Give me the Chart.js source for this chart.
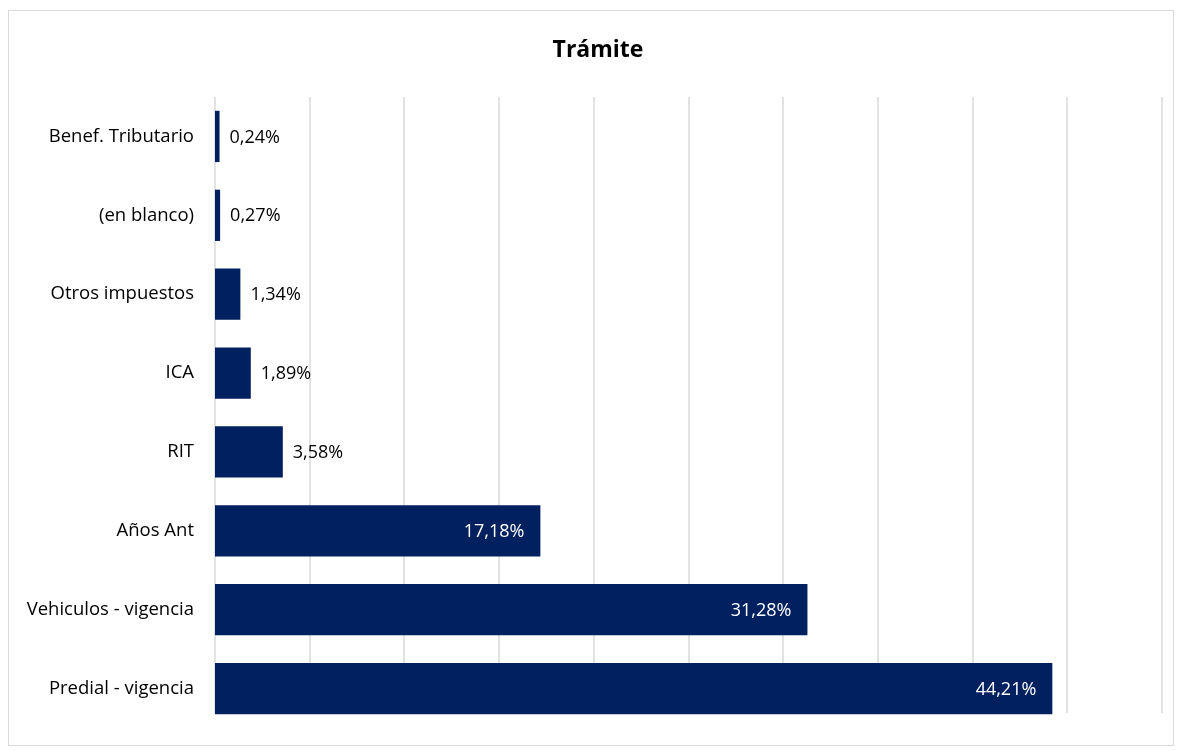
<!DOCTYPE html>
<html lang="es">
<head>
  <meta charset="UTF-8">
  <title>Trámite</title>
  <script src="https://cdn.jsdelivr.net/npm/chart.js"></script>
  <style>
    html, body { margin: 0; padding: 0; background: #fff; }
    #wrap { position: relative; width: 1182px; height: 751px; }
  </style>
</head>
<body>
<div id="wrap"><canvas id="tramite"></canvas></div>
<script>
const categories = [
  'Benef. Tributario', '(en blanco)', 'Otros impuestos', 'ICA',
  'RIT', 'Años Ant', 'Vehiculos - vigencia', 'Predial - vigencia'
];
const values = [0.24, 0.27, 1.34, 1.89, 3.58, 17.18, 31.28, 44.21];
const title = 'Trámite';

const fontFamily = '"Open Sans", sans-serif';
const barColor = '#002060';

function pct(v) {
  return v.toFixed(2).replace('.', ',') + '%';
}

// frame, gridlines, title and value labels
const decor = {
  id: 'decor',
  beforeDraw(chart) {
    const c = chart.ctx;
    c.save();
    c.fillStyle = '#fff';
    c.fillRect(0, 0, chart.width, chart.height);
    c.strokeStyle = '#d9d9d9';
    c.lineWidth = 1;
    c.strokeRect(8.5, 10.5, 1165, 735);
    c.restore();
  },
  beforeDatasetsDraw(chart) {
    const c = chart.ctx;
    const xs = chart.scales.x;
    const area = chart.chartArea;
    c.save();
    c.strokeStyle = '#d9d9d9';
    c.lineWidth = 1.5;
    xs.ticks.forEach(t => {
      const x = Math.round(xs.getPixelForValue(t.value));
      c.beginPath();
      c.moveTo(x, area.top);
      c.lineTo(x, area.bottom - 15);
      c.stroke();
    });
    c.restore();
  },
  afterDatasetsDraw(chart) {
    const c = chart.ctx;
    c.save();
    c.font = 'bold 23px ' + fontFamily;
    c.fillStyle = '#000';
    c.textAlign = 'center';
    c.textBaseline = 'middle';
    c.fillText(title, 598, 50);

    c.font = '18px ' + fontFamily;
    const meta = chart.getDatasetMeta(0);
    meta.data.forEach((bar, i) => {
      const v = values[i];
      if (v > 10) {
        c.fillStyle = '#fff';
        c.textAlign = 'right';
        c.fillText(pct(v), bar.x - 16, bar.y + 1);
      } else {
        c.fillStyle = '#000';
        c.textAlign = 'left';
        c.fillText(pct(v), bar.x + 10, bar.y + 1);
      }
    });
    c.restore();
  }
};

new Chart(document.getElementById('tramite'), {
  type: 'bar',
  data: {
    labels: categories,
    datasets: [{
      data: values,
      backgroundColor: barColor,
      borderWidth: 0,
      categoryPercentage: 1,
      barPercentage: 0.65
    }]
  },
  plugins: [decor],
  options: {
    indexAxis: 'y',
    responsive: true,
    maintainAspectRatio: false,
    animation: false,
    layout: { padding: { top: 97, bottom: 23, right: 20, left: 0 } },
    plugins: {
      legend: { display: false },
      title: { display: false },
      tooltip: { enabled: false }
    },
    scales: {
      x: {
        min: 0,
        max: 50,
        ticks: { stepSize: 5, display: false },
        border: { display: false },
        grid: { display: false, drawTicks: false },
        afterFit(scale) { scale.height = 0; scale.paddingLeft = 0; scale.paddingRight = 0; }
      },
      y: {
        afterFit(scale) {
          scale.width = 215;
          scale.paddingTop = 0;
          scale.paddingBottom = 0;
        },
        ticks: {
          padding: 21,
          color: '#000',
          font: { family: fontFamily, size: 18.5 }
        },
        border: { display: false },
        grid: { display: false, drawTicks: false }
      }
    }
  }
});
</script>
</body>
</html>
